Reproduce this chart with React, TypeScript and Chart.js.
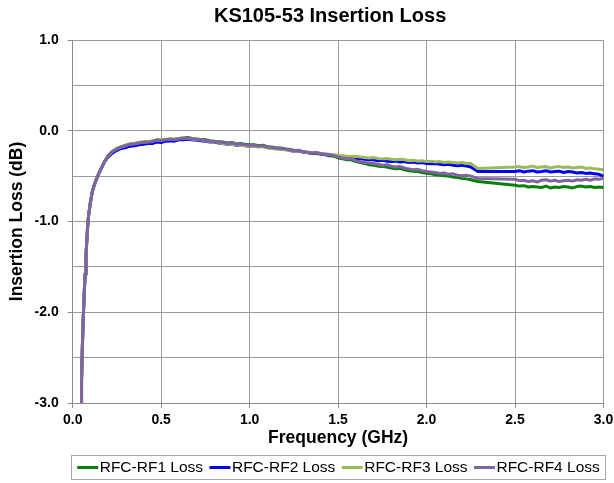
import { useEffect, useRef } from "react";
import { Chart, registerables } from "chart.js";

Chart.register(...registerables);

const TITLE = "KS105-53 Insertion Loss";
const X_TITLE = "Frequency (GHz)";
const Y_TITLE = "Insertion Loss (dB)";

const SERIES_NAMES = ["RFC-RF1 Loss", "RFC-RF2 Loss", "RFC-RF3 Loss", "RFC-RF4 Loss"];
const SERIES_COLORS = ["#0a800a", "#0000ff", "#9bbb59", "#8064a2"];

const X_MIN = 0;
const X_MAX = 3;
const X_STEP = 0.5;
const Y_MIN = -3;
const Y_MAX = 1;
const Y_STEP = 0.5;

// Low-frequency roll-off, common to all four paths (GHz / dB)
const RISE_FREQ = [0.047, 0.05, 0.055, 0.06, 0.065, 0.07, 0.075, 0.08, 0.085, 0.09, 0.1, 0.11, 0.12, 0.135, 0.15, 0.165, 0.18];
const RISE_LOSS = [-3.1, -2.75, -2.35, -2.05, -1.8, -1.58, -1.38, -1.2, -1.04, -0.93, -0.79, -0.68, -0.61, -0.53, -0.46, -0.4, -0.34];

// Main band frequencies (GHz)
const MAIN_FREQ = [
  0.2, 0.225, 0.25, 0.275,
  0.3, 0.325, 0.35, 0.375, 0.4, 0.425, 0.45, 0.475, 0.5, 0.525, 0.55, 0.575, 0.6, 0.625, 0.65, 0.675, 0.7, 0.725, 0.75, 0.775, 0.8, 0.825, 0.85, 0.875, 0.9, 0.925, 0.95, 0.975, 1.0,
  1.025, 1.05, 1.075, 1.1, 1.125, 1.15, 1.175, 1.2, 1.225, 1.25, 1.275, 1.3, 1.325, 1.35, 1.375, 1.4, 1.425, 1.45, 1.475, 1.5,
  1.525, 1.55, 1.575, 1.6, 1.625, 1.65, 1.675, 1.7, 1.725, 1.75, 1.775, 1.8, 1.825, 1.85, 1.875, 1.9, 1.925, 1.95, 1.975, 2.0,
  2.025, 2.05, 2.075, 2.1, 2.125, 2.15, 2.175, 2.2, 2.225, 2.25, 2.29,
  2.5, 2.525, 2.55, 2.575, 2.6, 2.625, 2.65, 2.675, 2.7, 2.725, 2.75, 2.775, 2.8, 2.825, 2.85, 2.875, 2.9, 2.925, 2.95, 2.975, 3.0,
];

const RF1_LOSS = [
  -0.275, -0.225, -0.195, -0.175,
  -0.16, -0.145, -0.14, -0.13, -0.125, -0.12, -0.115, -0.1, -0.105, -0.095, -0.09, -0.095, -0.085, -0.08, -0.075, -0.085, -0.09, -0.095, -0.1, -0.11, -0.115, -0.12, -0.125, -0.135, -0.13, -0.145, -0.14, -0.15, -0.155,
  -0.155, -0.165, -0.16, -0.175, -0.18, -0.19, -0.19, -0.2, -0.205, -0.215, -0.22, -0.23, -0.24, -0.245, -0.25, -0.255, -0.265, -0.275, -0.28, -0.3,
  -0.31, -0.32, -0.32, -0.34, -0.35, -0.36, -0.375, -0.38, -0.39, -0.395, -0.4, -0.41, -0.42, -0.415, -0.43, -0.44, -0.445, -0.45, -0.46, -0.47,
  -0.475, -0.485, -0.49, -0.495, -0.5, -0.51, -0.515, -0.525, -0.53, -0.54, -0.56,
  -0.6, -0.61, -0.605, -0.62, -0.615, -0.62, -0.625, -0.61, -0.63, -0.62, -0.625, -0.615, -0.62, -0.63, -0.615, -0.61, -0.62, -0.615, -0.625, -0.62, -0.625,
];

const RF2_LOSS = [
  -0.29, -0.245, -0.215, -0.195,
  -0.185, -0.17, -0.165, -0.155, -0.15, -0.14, -0.14, -0.125, -0.13, -0.115, -0.11, -0.115, -0.1, -0.1, -0.095, -0.1, -0.105, -0.11, -0.115, -0.125, -0.125, -0.135, -0.14, -0.15, -0.145, -0.16, -0.155, -0.165, -0.17,
  -0.165, -0.175, -0.17, -0.185, -0.19, -0.195, -0.2, -0.205, -0.215, -0.225, -0.22, -0.235, -0.24, -0.25, -0.245, -0.255, -0.26, -0.265, -0.27, -0.28,
  -0.29, -0.295, -0.3, -0.31, -0.305, -0.315, -0.32, -0.32, -0.33, -0.325, -0.335, -0.34, -0.335, -0.345, -0.34, -0.35, -0.345, -0.355, -0.35, -0.36,
  -0.365, -0.36, -0.37, -0.375, -0.37, -0.38, -0.385, -0.38, -0.39, -0.4, -0.45,
  -0.45, -0.44, -0.455, -0.445, -0.44, -0.455, -0.45, -0.44, -0.455, -0.45, -0.445, -0.46, -0.45, -0.455, -0.465, -0.46, -0.47, -0.465, -0.475, -0.48, -0.5,
];

const RF3_LOSS = [
  -0.275, -0.225, -0.195, -0.18,
  -0.16, -0.145, -0.14, -0.13, -0.125, -0.12, -0.11, -0.105, -0.1, -0.095, -0.09, -0.09, -0.085, -0.08, -0.085, -0.09, -0.1, -0.1, -0.11, -0.12, -0.12, -0.13, -0.14, -0.145, -0.15, -0.155, -0.16, -0.165, -0.17,
  -0.17, -0.18, -0.175, -0.19, -0.195, -0.2, -0.205, -0.21, -0.215, -0.225, -0.22, -0.23, -0.24, -0.245, -0.24, -0.25, -0.255, -0.26, -0.265, -0.27,
  -0.275, -0.28, -0.285, -0.28, -0.29, -0.295, -0.3, -0.295, -0.305, -0.31, -0.305, -0.315, -0.32, -0.315, -0.32, -0.33, -0.325, -0.335, -0.33, -0.34,
  -0.335, -0.345, -0.34, -0.35, -0.345, -0.35, -0.355, -0.35, -0.36, -0.36, -0.415,
  -0.4, -0.395, -0.405, -0.4, -0.39, -0.405, -0.4, -0.395, -0.41, -0.4, -0.395, -0.405, -0.4, -0.41, -0.405, -0.4, -0.415, -0.41, -0.42, -0.425, -0.43,
];

const RF4_LOSS = [
  -0.28, -0.23, -0.2, -0.18,
  -0.165, -0.15, -0.145, -0.135, -0.13, -0.125, -0.12, -0.105, -0.11, -0.1, -0.095, -0.1, -0.09, -0.085, -0.08, -0.09, -0.095, -0.1, -0.105, -0.115, -0.12, -0.125, -0.13, -0.14, -0.135, -0.15, -0.145, -0.155, -0.16,
  -0.16, -0.17, -0.165, -0.18, -0.185, -0.19, -0.195, -0.2, -0.21, -0.22, -0.215, -0.23, -0.235, -0.245, -0.24, -0.25, -0.26, -0.265, -0.275, -0.29,
  -0.3, -0.31, -0.305, -0.33, -0.34, -0.35, -0.355, -0.36, -0.37, -0.38, -0.375, -0.39, -0.4, -0.395, -0.41, -0.42, -0.43, -0.425, -0.44, -0.45,
  -0.455, -0.46, -0.47, -0.465, -0.48, -0.475, -0.49, -0.495, -0.49, -0.5, -0.525,
  -0.535, -0.55, -0.545, -0.56, -0.55, -0.565, -0.545, -0.54, -0.555, -0.545, -0.56, -0.55, -0.545, -0.555, -0.54, -0.545, -0.535, -0.545, -0.53, -0.535, -0.525,
];

const SERIES_LOSS = [RF1_LOSS, RF2_LOSS, RF3_LOSS, RF4_LOSS];
// Excel draws later series on top; in Chart.js lower "order" is drawn last
const SERIES_ORDER = [3, 2, 1, 0];

const FONT_FAMILY = '"Liberation Sans", Arial, Helvetica, sans-serif';

const isWhole = (v: number) => Math.abs(v - Math.round(v)) < 1e-6;

const titlePlugin = {
  id: "fixedTitle",
  afterDraw(chart: any) {
    const { ctx, chartArea } = chart;
    ctx.save();
    ctx.font = `bold 20px ${FONT_FAMILY}`;
    ctx.fillStyle = "#000";
    ctx.textAlign = "center";
    ctx.textBaseline = "middle";
    ctx.fillText(TITLE, (chartArea.left + chartArea.right) / 2 - 8, 16);
    ctx.restore();
  },
};

const boxedLegendPlugin = {
  id: "boxedLegend",
  afterDraw(chart: any) {
    const { ctx } = chart;
    const datasets = chart.data.datasets;
    const boxLeft = 71.5;
    const boxRight = 605.5;
    const boxTop = 455.5;
    const boxBottom = 479.5;
    const lineLen = 21;
    const textGap = 1.5;
    const itemGap = 6.4;
    ctx.save();
    ctx.font = `15.5px ${FONT_FAMILY}`;
    const widths = datasets.map((d: any) => lineLen + textGap + ctx.measureText(d.label).width);
    const total = widths.reduce((a: number, b: number) => a + b, 0) + itemGap * (datasets.length - 1);
    ctx.strokeStyle = "#a6a6a6";
    ctx.lineWidth = 1;
    ctx.strokeRect(boxLeft, boxTop, boxRight - boxLeft, boxBottom - boxTop);
    let x = (boxLeft + boxRight) / 2 - total / 2;
    const y = (boxTop + boxBottom) / 2;
    datasets.forEach((d: any, i: number) => {
      ctx.strokeStyle = d.borderColor;
      ctx.lineWidth = 3;
      ctx.beginPath();
      ctx.moveTo(x, y);
      ctx.lineTo(x + lineLen, y);
      ctx.stroke();
      ctx.fillStyle = "#000";
      ctx.textAlign = "left";
      ctx.textBaseline = "middle";
      ctx.fillText(d.label, x + lineLen + textGap, y + 0.5);
      x += widths[i] + itemGap;
    });
    ctx.restore();
  },
};

export default function App() {
  const canvasRef = useRef<HTMLCanvasElement | null>(null);

  useEffect(() => {
    if (!canvasRef.current) return;
    Chart.defaults.font.family = FONT_FAMILY;
    const freq = [...RISE_FREQ, ...MAIN_FREQ];
    const datasets = SERIES_NAMES.map((name, i) => {
      const loss = [...RISE_LOSS, ...SERIES_LOSS[i]];
      return {
        label: name,
        data: freq.map((f, k) => ({ x: f, y: loss[k] })),
        borderColor: SERIES_COLORS[i],
        backgroundColor: SERIES_COLORS[i],
        borderWidth: 3,
        pointRadius: 0,
        tension: 0,
        borderJoinStyle: "round" as const,
        order: SERIES_ORDER[i],
      };
    });

    const chart = new Chart(canvasRef.current, {
      type: "line",
      data: { datasets },
      plugins: [titlePlugin, boxedLegendPlugin],
      options: {
        animation: false,
        responsive: true,
        maintainAspectRatio: false,
        layout: { padding: { left: 0, right: 10.5, top: 40, bottom: 30 } },
        plugins: {
          legend: { display: false },
          title: { display: false },
          tooltip: { enabled: false },
        },
        scales: {
          x: {
            type: "linear",
            min: X_MIN,
            max: X_MAX,
            afterFit(scale: any) {
              scale.height = 50;
              scale.paddingLeft = 0;
              scale.paddingRight = 0;
            },
            ticks: {
              stepSize: X_STEP,
              padding: 4,
              color: "#000",
              font: { size: 14, weight: "bold" },
              maxRotation: 0,
              callback: (v: any) => Number(v).toFixed(1),
            },
            grid: { color: "#9a9a9a", lineWidth: 1, tickLength: 5, tickColor: "#8a8a8a" },
            border: { color: "#8a8a8a", width: 1 },
            title: {
              display: true,
              text: X_TITLE,
              color: "#000",
              font: { size: 17.5, weight: "bold" },
              padding: { top: 0, bottom: 4.5 },
            },
          },
          y: {
            type: "linear",
            min: Y_MIN,
            max: Y_MAX,
            afterFit(scale: any) {
              scale.width = 72.7;
              scale.paddingTop = 0;
              scale.paddingBottom = 0;
            },
            ticks: {
              stepSize: Y_STEP,
              padding: 9,
              color: "#000",
              font: { size: 14, weight: "bold" },
              callback: (v: any) => (isWhole(Number(v)) ? Number(v).toFixed(1) : ""),
            },
            grid: {
              color: "#9a9a9a",
              lineWidth: 1,
              tickLength: 5,
              tickColor: (c: any) => (c.tick && isWhole(c.tick.value) ? "#8a8a8a" : "rgba(0,0,0,0)"),
            },
            border: { color: "#8a8a8a", width: 1 },
            title: {
              display: true,
              text: Y_TITLE,
              color: "#000",
              font: { size: 17.5, weight: "bold" },
              padding: { top: 7, bottom: 0 },
            },
          },
        },
      },
    });
    return () => chart.destroy();
  }, []);

  return (
    <div style={{ position: "absolute", left: 0, top: 0, width: 614, height: 483, background: "#fff" }}>
      <canvas ref={canvasRef} />
    </div>
  );
}
